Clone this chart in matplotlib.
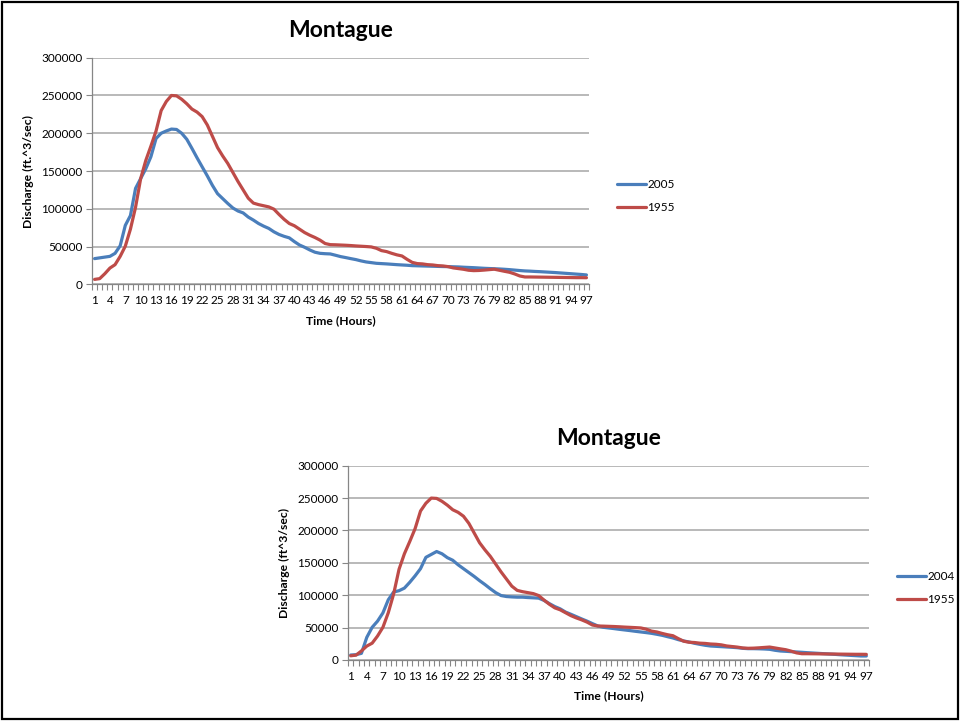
import matplotlib.pyplot as plt
from matplotlib.patches import Rectangle
import numpy as np

hours = list(range(1, 98))

flow_2005 = [
    34000, 35000, 36000, 37000, 41000, 51000, 78000, 91000, 127000, 140000,
    153000, 169000, 193000, 200000, 203000, 205500, 205000, 200000, 192000, 180000,
    167500, 155500, 143600, 131000, 120000, 113500, 107000, 101000, 97000, 94500,
    89000, 85000, 80500, 77000, 74000, 69500, 66000, 63500, 61500, 56500,
    52000, 49000, 45500, 42500, 41000, 40500, 40200, 38500, 36700, 35400,
    34000, 32700, 31000, 29600, 28700, 27800, 27400, 27000, 26500, 26000,
    25600, 25200, 24700, 24500, 24300, 24100, 23900, 23700, 23500, 23400,
    23200, 23000, 22600, 22300, 22000, 21600, 21200, 20900, 20600, 20300,
    19900, 19400, 18800, 18200, 17700, 17400, 17000, 16700, 16300, 15900,
    15500, 15000, 14500, 14000, 13500, 13000, 12400,
]

flow_2004 = [
    7700, 8200, 10300, 35000, 50500, 60000, 72700, 93000, 105000, 107000,
    111000, 120000, 130000, 141000, 158500, 163000, 167500, 164000, 158000, 154000,
    147000, 141000, 135000, 129000, 122500, 116500, 110000, 104000, 99500, 98000,
    97400, 97000, 97000, 96400, 96000, 95500, 92000, 87000, 82500, 79000,
    74000, 70600, 67000, 63400, 60000, 56200, 52600, 50500, 49500, 48500,
    47400, 46400, 45400, 44300, 43300, 42300, 41200, 39700, 38100, 36000,
    34000, 31400, 29400, 27800, 25800, 24200, 22700, 21600, 21100, 20600,
    20100, 19600, 19000, 18000, 17500, 17500, 17300, 17000, 16500, 15000,
    13900, 13400, 12900, 12400, 11900, 11300, 10800, 10300, 9800, 9300,
    8800, 8200, 7700, 7200, 6700, 6200, 6200,
]

flow_1955 = [
    6500, 7500, 14000, 21500, 26000, 37000, 50500, 73000, 102000, 140000,
    164000, 183000, 203000, 230000, 242000, 250000, 249500, 245000, 239000, 232000,
    228000, 222000, 211000, 196000, 181000, 170000, 160000, 148000, 136000, 125000,
    114000, 107500, 105500, 104000, 102500, 99500, 92500, 86000, 80500, 77500,
    73000, 68500, 65000, 62000, 58500, 54000, 52500, 52300, 52000, 51700,
    51300, 50800, 50400, 50000, 49500, 47700, 44600, 43300, 41000, 39000,
    37500, 33000, 29000, 27400, 27000, 26000, 25600, 24700, 24300, 23400,
    21700, 20800, 19900, 18600, 18100, 18300, 18800, 19400, 20000, 18600,
    17200, 15900, 13700, 11000, 9700, 9700, 9600, 9500, 9400, 9300,
    9200, 9100, 9000, 8900, 8800, 8800, 8700,
]

y_ticks = [0, 50000, 100000, 150000, 200000, 250000, 300000]
x_labels = hours[::3]

BLUE = '#4a7ebb'
RED = '#be4b48'
GRID = '#a6a6a6'
AXIS = '#868686'

plt.rcParams['font.family'] = ['Lato', 'DejaVu Sans']


def draw_chart(fig, rect, recent, recent_label, ylabel, legend_xy):
    ax = fig.add_axes(rect)
    ax.plot(hours, recent, color=BLUE, lw=2.3, label=recent_label, solid_capstyle='round')
    ax.plot(hours, flow_1955, color=RED, lw=2.3, label='1955', solid_capstyle='round')
    ax.set_xlim(0.5, 97.5)
    ax.set_ylim(0, 300000)
    ax.set_yticks(y_ticks)
    ax.set_yticklabels([str(v) for v in y_ticks], fontsize=8.5)
    ax.yaxis.grid(True, color=GRID, lw=1.1)
    ax.set_axisbelow(True)
    ax.set_xticks(x_labels)
    ax.set_xticklabels([str(v) for v in x_labels], fontsize=8.5)
    ax.set_xticks(np.arange(0.5, 98, 1), minor=True)
    ax.tick_params(axis='x', which='major', length=0, pad=8)
    ax.tick_params(axis='x', which='minor', length=4, color=AXIS, width=0.8)
    ax.tick_params(axis='y', length=4, color=AXIS, width=0.8, pad=3)
    for s in ('top', 'right'):
        ax.spines[s].set_visible(False)
    for s in ('left', 'bottom'):
        ax.spines[s].set_color(AXIS)
        ax.spines[s].set_linewidth(0.9)
    ax.set_title('Montague', fontsize=16.5, fontweight='bold', pad=15)
    ax.set_xlabel('Time (Hours)', fontsize=8.7, fontweight='bold', labelpad=6)
    ax.set_ylabel(ylabel, fontsize=8.7, fontweight='bold', labelpad=5)
    ax.legend(loc='center left', bbox_to_anchor=legend_xy, bbox_transform=fig.transFigure,
              frameon=False, fontsize=8.5, handlelength=2.5, handletextpad=0.1,
              labelspacing=1.0, borderaxespad=0)
    return ax


fig = plt.figure(figsize=(9.6, 7.21), dpi=100)

draw_chart(fig, [92 / 960, 1 - 284.3 / 721, 497 / 960, 226.6 / 721],
           flow_2005, '2005', 'Discharge (ft.^3/sec)', (612 / 960, 1 - 196 / 721))
draw_chart(fig, [348 / 960, 1 - 660 / 721, 521 / 960, 194.3 / 721],
           flow_2004, '2004', 'Discharge (ft^3/sec)', (892 / 960, 1 - 588 / 721))

fig.patches.append(Rectangle((0.002, 0.003), 0.996, 0.994, transform=fig.transFigure,
                             fill=False, edgecolor='black', lw=1.6))

fig.savefig('out.png', dpi=100)
